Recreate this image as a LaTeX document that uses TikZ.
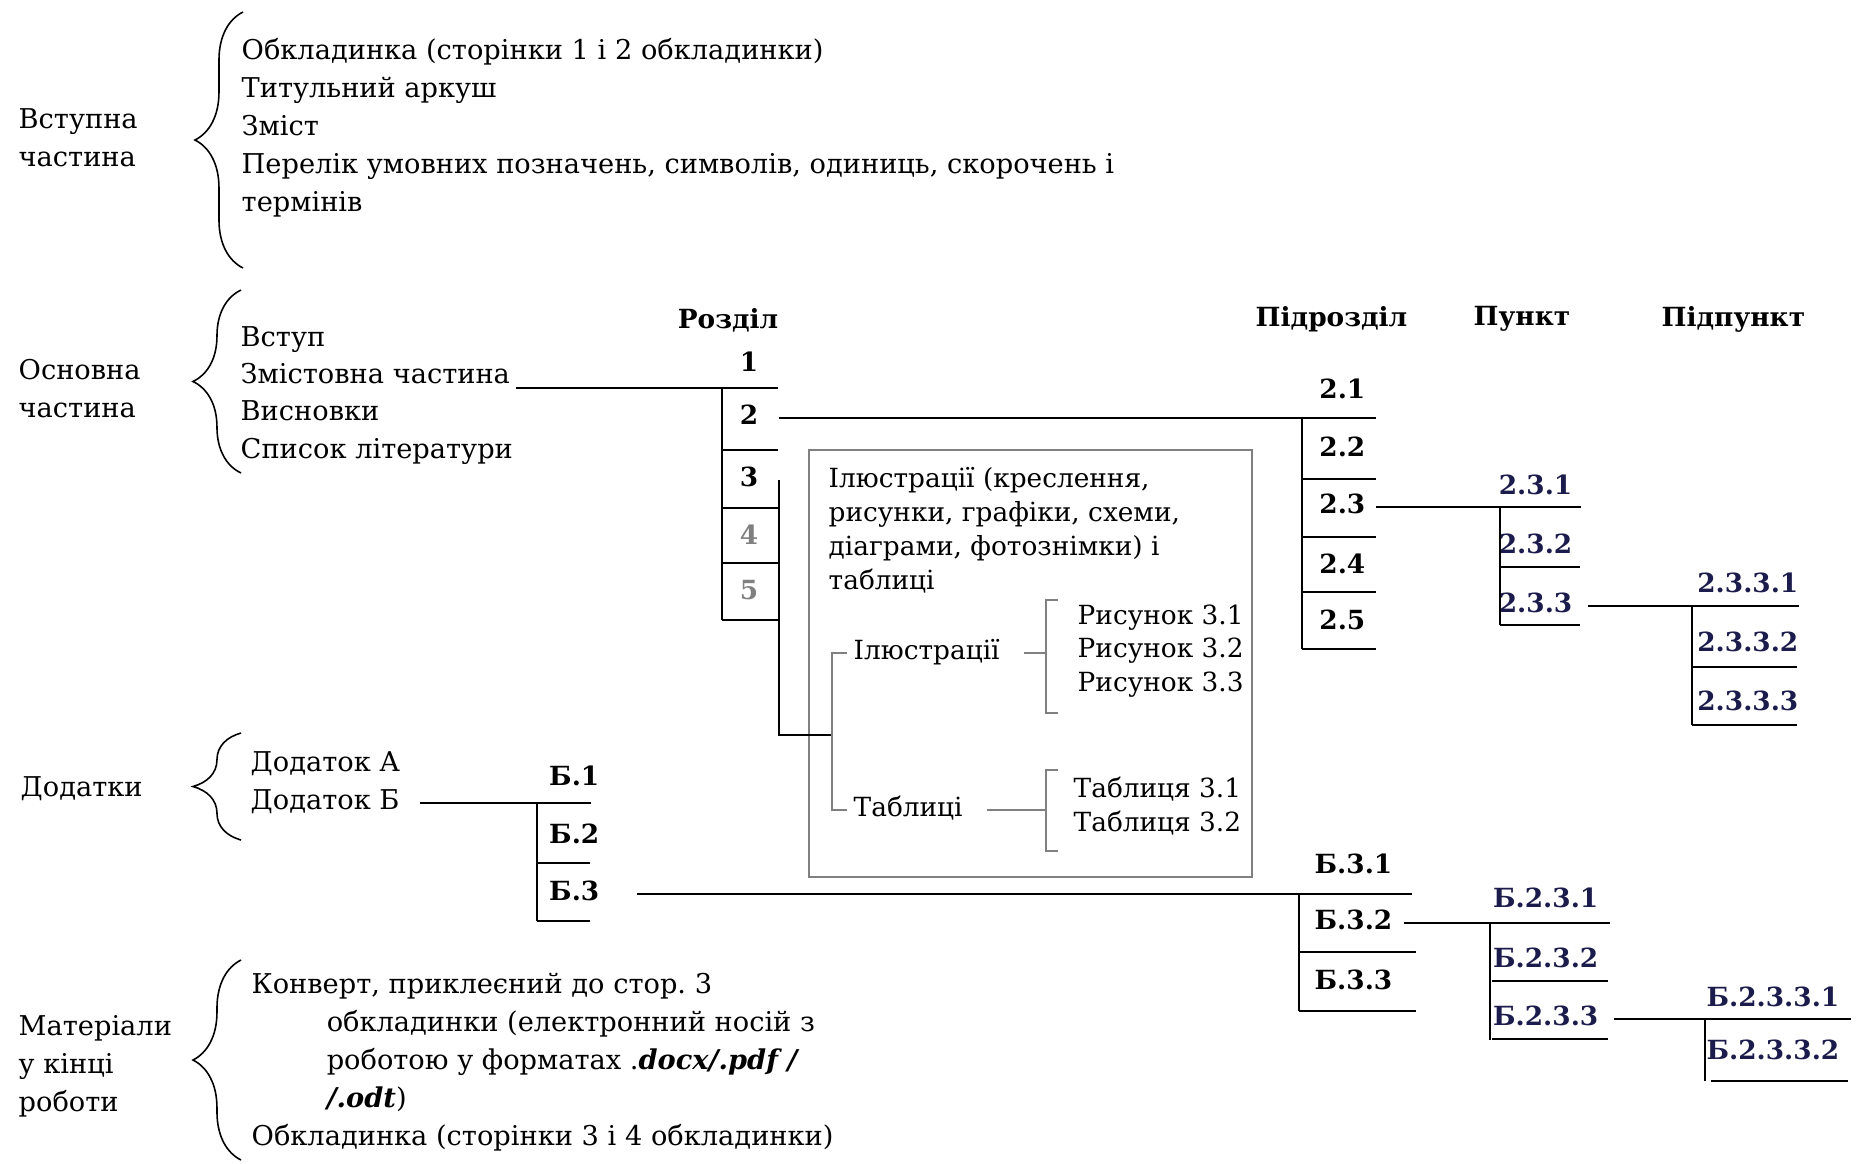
\documentclass[tikz,border=0pt]{standalone}
\usepackage{fontspec}
\setmainfont{DejaVu Serif}
\usetikzlibrary{positioning,calc,decorations.pathreplacing}
\definecolor{navy}{HTML}{1C1C4C}
\definecolor{boxgray}{HTML}{808080}
\frenchspacing

\begin{document}
\begin{tikzpicture}[
    x=0.01cm, y=-0.01cm,
    txt/.style={inner sep=0pt, font=\fontsize{7.75}{10.8}\selectfont, align=left},
    small/.style={inner sep=0pt, font=\fontsize{7.5}{9.6}\selectfont, align=left},
    item/.style={inner sep=0pt, font=\fontsize{7.75}{10.8}\selectfont, text height=5.6pt, text depth=1.7pt},
    smallitem/.style={item, font=\fontsize{7.5}{9.6}\selectfont},
    head/.style={inner sep=0pt, font=\fontsize{7.5}{10.8}\selectfont\bfseries},
    num/.style={item, font=\fontsize{7.5}{10.8}\selectfont\bfseries},
    subnum/.style={num, text=navy, anchor=east},
    grid/.style={draw, line width=0.8pt},
    line/.style={draw, line width=0.8pt},
    thin/.style={draw=boxgray, line width=0.55pt},
    curly/.style={draw, line width=0.45pt, decorate, decoration={brace, amplitude=0.48cm, aspect=0.5}}
]
    \useasboundingbox (0,0) rectangle (1863,1163);

    % Left column
    \node [txt, anchor=west] (vstupna) at (18,138) {Вступна\\частина};
    \node [txt, anchor=west] (osnovna) at (18,389) {Основна\\частина};
    \node [item, anchor=west] (dodatky) at (20,790) {Додатки};
    \node [txt, anchor=west] (materialy) at (18,1066) {Матеріали\\у кінці\\роботи};

    % Braces
    \draw [curly] (243,268) -- (243,12);
    \draw [curly] (241,473) -- (241,290);
    \draw [curly] (241,840) -- (241,733);
    \draw [curly] (241,1160) -- (241,960);

    % Lists
    \node [txt, anchor=west] (vstup-list) at (241,128) {Обкладинка (сторінки 1 і 2 обкладинки)\\Титульний аркуш\\Зміст\\Перелік умовних позначень, символів, одиниць, скорочень і\\термінів};
    \node [item, anchor=west] (vstup) at (240,340) {Вступ};
    \node [item, anchor=west] (zmist) at (240,377) {Змістовна частина};
    \node [item, anchor=west] (vysnovky) at (240,414) {Висновки};
    \node [item, anchor=west] (spysok) at (240,452) {Список літератури};
    \node [item, anchor=west] (dodA) at (250,765) {Додаток А};
    \node [item, anchor=west] (dodB) at (250,803) {Додаток Б};
    \node [txt, anchor=west] (mat-list) at (251,1062) {Конверт, приклеєний до стор. 3\\\hspace*{0.75cm}обкладинки (електронний носій з\\\hspace*{0.75cm}роботою у форматах .\textbf{\textit{docx/.pdf /}}\\\hspace*{0.75cm}\textbf{\textit{/.odt}})\\Обкладинка (сторінки 3 і 4 обкладинки)};

    % Headings
    \node [head, anchor=east] (rozdil) at (779,320) {Розділ};
    \node [head, anchor=east] (pidrozdil) at (1408,319) {Підрозділ};
    \node [head, anchor=west] (punkt) at (1473,319) {Пункт};
    \node [head, anchor=west] (pidpunkt) at (1661,319) {Підпункт};

    % Rozdil
    \node [num] (s1) at (749,365) {1};
    \node [num] (s2) at (749,418) {2};
    \node [num] (s3) at (749,480) {3};
    \node [num, text=boxgray] (s4) at (749,538) {4};
    \node [num, text=boxgray] (s5) at (749,593) {5};
    \coordinate (s-top) at (778,388);
    \draw [line] ([xshift=0.05cm]zmist.east |- s-top) -- (s-top);
    \draw [grid] (722,388) -- (722,620);
    \foreach \y in {450,508,563,620}
        \draw [grid] (722,\y) -- (778,\y);

    % Pidrozdil
    \node [num, anchor=east] (p1) at (1366,392) {2.1};
    \node [num, anchor=east] (p2) at (1366,450) {2.2};
    \node [num, anchor=east] (p3) at (1366,507) {2.3};
    \node [num, anchor=east] (p4) at (1366,567) {2.4};
    \node [num, anchor=east] (p5) at (1366,623) {2.5};
    \coordinate (p-top) at (1376,418);
    \draw [line] (s2.east -| rozdil.east) -- (p-top);
    \draw [grid] (1302,418) -- (1302,649);
    \foreach \y in {479,537,592,649}
        \draw [grid] (1302,\y) -- (1376,\y);

    % Punkt
    \node [subnum] (u1) at (1573,488) {2.3.1};
    \node [subnum] (u2) at (1573,547) {2.3.2};
    \node [subnum] (u3) at (1573,606) {2.3.3};
    \coordinate (u-top) at (1581,507);
    \draw [line] (p3.east -| p-top) -- (u-top);
    \draw [grid] (1500,507) -- (1500,625);
    \foreach \y in {567,625}
        \draw [grid] (1500,\y) -- (1580,\y);

    % Pidpunkt
    \node [subnum] (pp1) at (1799,586) {2.3.3.1};
    \node [subnum] (pp2) at (1799,645) {2.3.3.2};
    \node [subnum] (pp3) at (1799,704) {2.3.3.3};
    \coordinate (pp-top) at (1799,606);
    \draw [line] ([xshift=0.15cm]u3.east) -- (pp-top);
    \draw [grid] (1692,606) -- (1692,725);
    \foreach \y in {667,725}
        \draw [grid] (1692,\y) -- (1797,\y);

    % Illustrations box
    \node [draw=boxgray, line width=0.55pt, inner sep=0pt, minimum width=4.43cm, minimum height=4.27cm, anchor=north west] (illbox) at (808,449) {};
    \node [small, anchor=north west] (illtext) at (828,467) {Ілюстрації (креслення,\\рисунки, графіки, схеми,\\діаграми, фотознімки) і\\таблиці};
    \node [smallitem, anchor=west] (ill) at (853,653) {Ілюстрації};
    \node [smallitem, anchor=west] (tab) at (853,810) {Таблиці};
    \node [small, anchor=west] (rys) at (1077,651) {Рисунок 3.1\\Рисунок 3.2\\Рисунок 3.3};
    \node [small, anchor=west] (tabl) at (1073,806) {Таблиця 3.1\\Таблиця 3.2};
    \coordinate (ill-fork) at (832,735);
    \draw [line] (s3.east -| rozdil.east) |- (ill-fork);
    \draw [thin] ([xshift=-0.06cm]ill.west) -| (ill-fork) |- ([xshift=-0.06cm]tab.west);
    \coordinate (rys-br) at ($(rys.west)+(-31,0)$);
    \coordinate (tabl-br) at ($(tabl.west)+(-27,0)$);
    \draw [thin] ([xshift=0.24cm]ill.east) -- (ill.east -| rys-br);
    \draw [thin] ([xshift=0.24cm]tab.east) -- (tab.east -| tabl-br);
    \draw [thin] ($(rys-br)+(12,-51)$) -- ++(-12,0) -- ++(0,113) -- ++(12,0);
    \draw [thin] ($(tabl-br)+(12,-36)$) -- ++(-12,0) -- ++(0,81) -- ++(12,0);

    % Dodatky
    \node [num, anchor=east] (b1) at (600,779) {Б.1};
    \node [num, anchor=east] (b2) at (600,837) {Б.2};
    \node [num, anchor=east] (b3) at (600,894) {Б.3};
    \coordinate (b-top) at (591,803);
    \draw [line] ([xshift=0.2cm]dodB.east) -- (b-top);
    \draw [grid] (537,803) -- (537,921);
    \foreach \y in {863,921}
        \draw [grid] (537,\y) -- (590,\y);

    % B.3.x
    \node [num, anchor=east] (b31) at (1393,867) {Б.3.1};
    \node [num, anchor=east] (b32) at (1393,923) {Б.3.2};
    \node [num, anchor=east] (b33) at (1393,983) {Б.3.3};
    \coordinate (b3-top) at (1412,894);
    \draw [line] ([xshift=0.37cm]b3.east) -- (b3-top);
    \draw [grid] (1299,894) -- (1299,1011);
    \foreach \y in {952,1011}
        \draw [grid] (1299,\y) -- (1416,\y);

    % B.2.3.x
    \node [subnum] (bb1) at (1599,901) {Б.2.3.1};
    \node [subnum] (bb2) at (1599,961) {Б.2.3.2};
    \node [subnum] (bb3) at (1599,1019) {Б.2.3.3};
    \coordinate (bb-top) at (1610,923);
    \draw [line] ([xshift=0.11cm]b32.east) -- (bb-top);
    \draw [grid] (1490,923) -- (1490,1040);
    \foreach \y in {981,1039}
        \draw [grid] (1492,\y) -- (1608,\y);

    % B.2.3.3.x
    \node [subnum] (bbb1) at (1840,1000) {Б.2.3.3.1};
    \node [subnum] (bbb2) at (1840,1053) {Б.2.3.3.2};
    \coordinate (bbb-top) at (1851,1019);
    \draw [line] ([xshift=0.15cm]bb3.east) -- (bbb-top);
    \draw [grid] (1705,1019) -- (1705,1081);
    \draw [grid] (1711,1081) -- (1848,1081);

\end{tikzpicture}
\end{document}
